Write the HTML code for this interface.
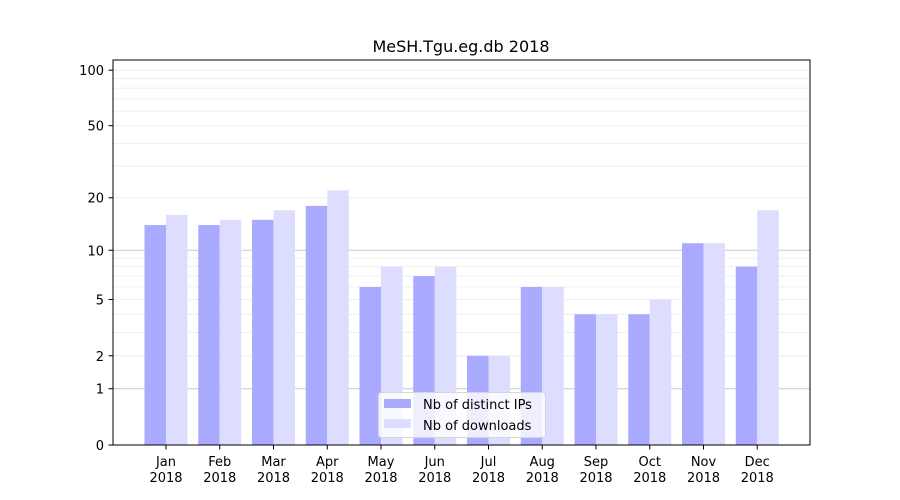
<!DOCTYPE html>
<html><head><meta charset="utf-8"><style>body{margin:0;background:#fff}svg{display:block}text{font-family:"DejaVu Sans","Liberation Sans",sans-serif;font-size:13px;fill:#000}</style></head><body>
<svg width="900" height="500" viewBox="0 0 900 500">
<rect width="900" height="500" fill="#fff"/>
<g stroke="#ebebeb" stroke-width="0.8">
<line x1="113" x2="810" y1="332.4" y2="332.4"/><line x1="113" x2="810" y1="314.3" y2="314.3"/><line x1="113" x2="810" y1="287" y2="287"/><line x1="113" x2="810" y1="276.1" y2="276.1"/><line x1="113" x2="810" y1="266.6" y2="266.6"/><line x1="113" x2="810" y1="258" y2="258"/><line x1="113" x2="810" y1="166.1" y2="166.1"/><line x1="113" x2="810" y1="143.4" y2="143.4"/><line x1="113" x2="810" y1="111.1" y2="111.1"/><line x1="113" x2="810" y1="98.8" y2="98.8"/><line x1="113" x2="810" y1="88.1" y2="88.1"/><line x1="113" x2="810" y1="78.7" y2="78.7"/>
<line x1="113" x2="810" y1="355.8" y2="355.8"/><line x1="113" x2="810" y1="299.5" y2="299.5"/><line x1="113" x2="810" y1="197.8" y2="197.8"/><line x1="113" x2="810" y1="125.7" y2="125.7"/><line x1="113" x2="810" y1="70.2" y2="70.2"/>
</g>
<g stroke="#c8c8c8" stroke-width="1"><line x1="113" x2="810" y1="388.7" y2="388.7"/><line x1="113" x2="810" y1="250.3" y2="250.3"/></g>
<g id="bars"></g>
<g id="lg"></g>
<rect x="113" y="60" width="697" height="385" fill="none" stroke="#000" stroke-width="1"/>
<g id="yt" text-anchor="end"></g>
<g id="xt" text-anchor="middle"></g>
<text x="461" y="52" text-anchor="middle" style="font-size:16px">MeSH.Tgu.eg.db 2018</text>
</svg>
<script>
var ns="http://www.w3.org/2000/svg";
function el(p,t,a,txt){var e=document.createElementNS(ns,t);for(var k in a)e.setAttribute(k,a[k]);if(txt!==undefined)e.textContent=txt;p.appendChild(e);return e;}
function Y(v){return 445-187*Math.log10(1+v);}
var ips=[14,14,15,18,6,7,2,6,4,4,11,8],dl=[16,15,17,22,8,8,2,6,4,5,11,17];
var m=["Jan","Feb","Mar","Apr","May","Jun","Jul","Aug","Sep","Oct","Nov","Dec"];
var b=document.getElementById("bars"),xt=document.getElementById("xt"),yt=document.getElementById("yt");
for(var i=0;i<12;i++){var c=166+53.75*i;
el(b,"rect",{x:c-21.5,y:Y(ips[i]),width:21.5,height:445-Y(ips[i]),fill:"#aaaaff"});
el(b,"rect",{x:c,y:Y(dl[i]),width:21.5,height:445-Y(dl[i]),fill:"#ddddff"});
el(xt,"line",{x1:c,x2:c,y1:445,y2:449.5,stroke:"#000"});
el(xt,"text",{x:c,y:466},m[i]);el(xt,"text",{x:c,y:482},"2018");}
[[0,"0"],[1,"1"],[2,"2"],[5,"5"],[10,"10"],[20,"20"],[50,"50"],[100,"100"]].forEach(function(t){var y=Y(t[0]);
el(yt,"line",{x1:108.5,x2:113,y1:y,y2:y,stroke:"#000"});el(yt,"text",{x:104,y:y+5},t[1]);});
var lg=document.getElementById("lg");
el(lg,"rect",{x:378.5,y:392.5,width:167,height:45,rx:3,fill:"rgba(255,255,255,0.8)",stroke:"#d6d6d6"});
el(lg,"rect",{x:384,y:399,width:27,height:9,fill:"#aaaaff"});
el(lg,"rect",{x:384,y:419,width:27,height:9,fill:"#ddddff"});
el(lg,"text",{x:423,y:409},"Nb of distinct IPs");
el(lg,"text",{x:423,y:430},"Nb of downloads");
</script>
</body></html>
